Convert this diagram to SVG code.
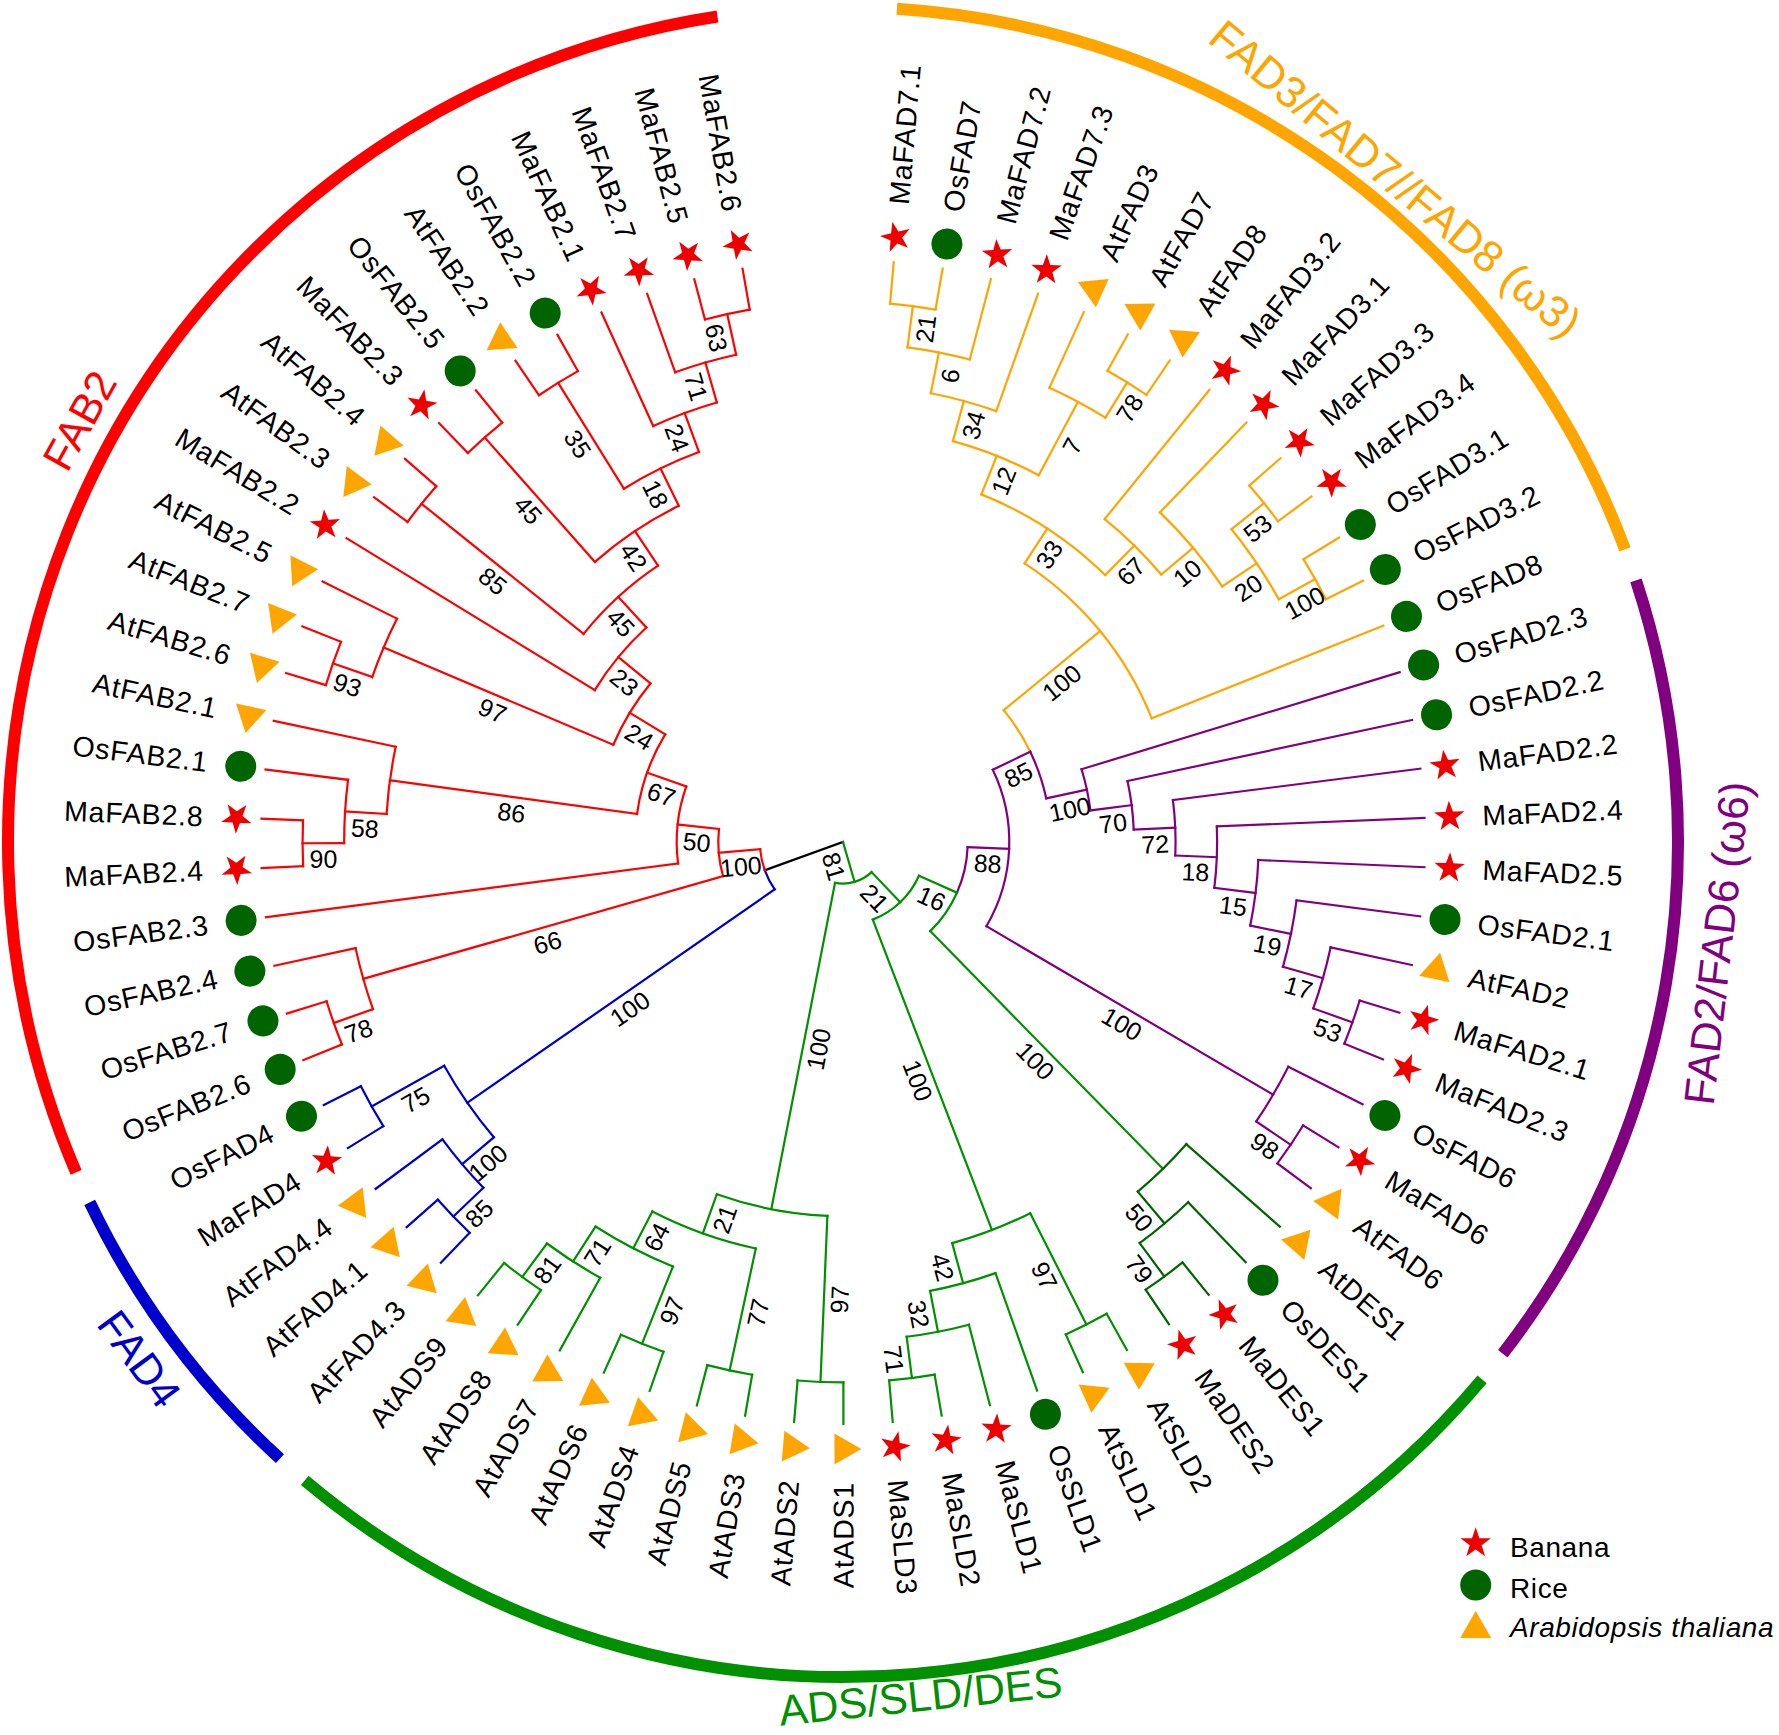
<svg xmlns="http://www.w3.org/2000/svg" width="1779" height="1735" viewBox="0 0 1779 1735">
<style>
text{font-family:"Liberation Sans",Arial,Helvetica,sans-serif}
.tip{font-size:28.5px;letter-spacing:0.8px}
.e{text-anchor:end}
.bs{font-size:25px;text-anchor:middle}
.ed line,.ed circle{fill:none;stroke-width:2.2;stroke-linecap:square}
.ca circle{fill:none;stroke-width:12}
.cl{font-size:43px;text-anchor:middle}
.r{stroke:#f00}.o{stroke:#ffa500}.p{stroke:#800080}.g{stroke:#009000}.d{stroke:#006400}.b{stroke:#0000cc}.k{stroke:#000}
.lg{font-size:28px;letter-spacing:0.6px}
</style>
<defs>
<polygon id="tri" points="0,-17.9 15.5,8.95 -15.5,8.95" fill="#ffa500"/>
<polygon id="star" points="0,-16 3.7,-5.1 15.22,-4.94 5.99,1.95 9.4,12.94 0,6.3 -9.4,12.94 -5.99,1.95 -15.22,-4.94 -3.7,-5.1" fill="#ee0000"/>
<circle id="dot" r="15.5" fill="#006400"/>
</defs>
<rect width="1779" height="1735" fill="#fff"/>
<g transform="translate(843,842)">
<g id="clade-arcs" class="ca">
<circle class="r" r="835" pathLength="360" stroke-dasharray="104.66 720" transform="rotate(156.7)"/>
<circle class="b" r="835" pathLength="360" stroke-dasharray="22.04 720" transform="rotate(132.4)"/>
<circle class="g" r="835" pathLength="360" stroke-dasharray="90.08 720" transform="rotate(40.06)"/>
<circle class="p" r="835" pathLength="360" stroke-dasharray="56.06 720" transform="rotate(341.74)"/>
<circle class="o" r="835" pathLength="360" stroke-dasharray="65.78 720" transform="rotate(273.7)"/>
</g>
<g id="clade-labels" class="cl">
<text fill="#f00" transform="rotate(208.9) translate(857,0) rotate(90)">FAB2</text>
<text fill="#0000cc" transform="rotate(143.7) translate(888,0) rotate(-90)">FAD4</text>
<text fill="#800080" transform="rotate(6.6) translate(895,0) rotate(-90)">FAD2/FAD6 (ω6)</text>
<text fill="#ffa500" font-size="44" transform="rotate(309.8) translate(848,0) rotate(90)">FAD3/FAD7//FAD8 (ω3)</text>
</g>
<g id="connectors" class="ed">
<g class="k"><line x2="83.14" transform="rotate(160.149)"/></g>
<g class="o">
<line x1="540.43" x2="582" transform="rotate(275)"/>
<line x1="540.43" x2="582" transform="rotate(279.86)"/>
<line x1="498.86" x2="582" transform="rotate(284.72)"/>
<line x1="457.29" x2="582" transform="rotate(289.58)"/>
<line x1="498.86" x2="582" transform="rotate(294.44)"/>
<line x1="540.43" x2="582" transform="rotate(299.3)"/>
<line x1="540.43" x2="582" transform="rotate(304.16)"/>
<line x1="415.71" x2="582" transform="rotate(309.02)"/>
<line x1="457.29" x2="582" transform="rotate(313.88)"/>
<line x1="540.43" x2="582" transform="rotate(318.74)"/>
<line x1="540.43" x2="582" transform="rotate(323.6)"/>
<line x1="540.43" x2="582" transform="rotate(328.46)"/>
<line x1="540.43" x2="582" transform="rotate(333.32)"/>
<line x1="332.57" x2="582" transform="rotate(338.18)"/>
<line x1="498.86" x2="540.43" transform="rotate(277.43)"/>
<line x1="457.29" x2="498.86" transform="rotate(281.075)"/>
<line x1="415.71" x2="457.29" transform="rotate(285.328)"/>
<line x1="498.86" x2="540.43" transform="rotate(301.73)"/>
<line x1="415.71" x2="498.86" transform="rotate(298.085)"/>
<line x1="374.14" x2="415.71" transform="rotate(291.706)"/>
<line x1="498.86" x2="540.43" transform="rotate(321.17)"/>
<line x1="498.86" x2="540.43" transform="rotate(330.89)"/>
<line x1="457.29" x2="498.86" transform="rotate(326.03)"/>
<line x1="415.71" x2="457.29" transform="rotate(319.955)"/>
<line x1="374.14" x2="415.71" transform="rotate(314.488)"/>
<line x1="332.57" x2="374.14" transform="rotate(303.097)"/>
<line x1="207.86" x2="332.57" transform="rotate(320.638)"/>
<circle r="540.43" pathLength="360" stroke-dasharray="4.86 720" transform="rotate(275)"/>
<circle r="498.86" pathLength="360" stroke-dasharray="7.29 720" transform="rotate(277.43)"/>
<circle r="457.29" pathLength="360" stroke-dasharray="8.505 720" transform="rotate(281.075)"/>
<circle r="540.43" pathLength="360" stroke-dasharray="4.86 720" transform="rotate(299.3)"/>
<circle r="498.86" pathLength="360" stroke-dasharray="7.29 720" transform="rotate(294.44)"/>
<circle r="415.71" pathLength="360" stroke-dasharray="12.757 720" transform="rotate(285.328)"/>
<circle r="540.43" pathLength="360" stroke-dasharray="4.86 720" transform="rotate(318.74)"/>
<circle r="540.43" pathLength="360" stroke-dasharray="4.86 720" transform="rotate(328.46)"/>
<circle r="498.86" pathLength="360" stroke-dasharray="9.72 720" transform="rotate(321.17)"/>
<circle r="457.29" pathLength="360" stroke-dasharray="12.15 720" transform="rotate(313.88)"/>
<circle r="415.71" pathLength="360" stroke-dasharray="10.935 720" transform="rotate(309.02)"/>
<circle r="374.14" pathLength="360" stroke-dasharray="22.782 720" transform="rotate(291.706)"/>
<circle r="332.57" pathLength="360" stroke-dasharray="35.083 720" transform="rotate(303.097)"/>
<circle r="207.86" pathLength="360" stroke-dasharray="13.622 720" transform="rotate(320.638)"/>
</g>
<g class="p">
<line x1="249.43" x2="582" transform="rotate(343.04)"/>
<line x1="291" x2="582" transform="rotate(347.9)"/>
<line x1="332.57" x2="582" transform="rotate(352.76)"/>
<line x1="374.14" x2="582" transform="rotate(357.62)"/>
<line x1="415.71" x2="582" transform="rotate(2.48)"/>
<line x1="457.29" x2="582" transform="rotate(7.34)"/>
<line x1="498.86" x2="582" transform="rotate(12.2)"/>
<line x1="540.43" x2="582" transform="rotate(17.06)"/>
<line x1="540.43" x2="582" transform="rotate(21.92)"/>
<line x1="498.86" x2="582" transform="rotate(26.78)"/>
<line x1="540.43" x2="582" transform="rotate(31.64)"/>
<line x1="540.43" x2="582" transform="rotate(36.5)"/>
<line x1="498.86" x2="540.43" transform="rotate(19.49)"/>
<line x1="457.29" x2="498.86" transform="rotate(15.845)"/>
<line x1="415.71" x2="457.29" transform="rotate(11.593)"/>
<line x1="374.14" x2="415.71" transform="rotate(7.036)"/>
<line x1="332.57" x2="374.14" transform="rotate(2.328)"/>
<line x1="291" x2="332.57" transform="rotate(357.544)"/>
<line x1="249.43" x2="291" transform="rotate(352.722)"/>
<line x1="207.86" x2="249.43" transform="rotate(347.881)"/>
<line x1="166.29" x2="207.86" transform="rotate(334.26)"/>
<line x1="498.86" x2="540.43" transform="rotate(34.07)"/>
<line x1="166.29" x2="498.86" transform="rotate(30.425)"/>
<line x1="124.71" x2="166.29" transform="rotate(2.342)"/>
<circle r="540.43" pathLength="360" stroke-dasharray="4.86 720" transform="rotate(17.06)"/>
<circle r="498.86" pathLength="360" stroke-dasharray="7.29 720" transform="rotate(12.2)"/>
<circle r="457.29" pathLength="360" stroke-dasharray="8.505 720" transform="rotate(7.34)"/>
<circle r="415.71" pathLength="360" stroke-dasharray="9.113 720" transform="rotate(2.48)"/>
<circle r="374.14" pathLength="360" stroke-dasharray="9.416 720" transform="rotate(357.62)"/>
<circle r="332.57" pathLength="360" stroke-dasharray="9.568 720" transform="rotate(352.76)"/>
<circle r="291" pathLength="360" stroke-dasharray="9.644 720" transform="rotate(347.9)"/>
<circle r="249.43" pathLength="360" stroke-dasharray="9.682 720" transform="rotate(343.04)"/>
<circle r="540.43" pathLength="360" stroke-dasharray="4.86 720" transform="rotate(31.64)"/>
<circle r="498.86" pathLength="360" stroke-dasharray="7.29 720" transform="rotate(26.78)"/>
<circle r="166.29" pathLength="360" stroke-dasharray="56.165 720" transform="rotate(334.26)"/>
<circle r="207.86" pathLength="360" stroke-dasharray="13.621 720" transform="rotate(334.26)"/>
<circle r="124.71" pathLength="360" stroke-dasharray="21.635 720" transform="rotate(2.342)"/>
</g>
<g class="g">
<line x1="540.43" x2="582" transform="rotate(60.8)"/>
<line x1="540.43" x2="582" transform="rotate(65.66)"/>
<line x1="457.29" x2="582" transform="rotate(70.52)"/>
<line x1="498.86" x2="582" transform="rotate(75.38)"/>
<line x1="540.43" x2="582" transform="rotate(80.24)"/>
<line x1="540.43" x2="582" transform="rotate(85.1)"/>
<line x1="540.43" x2="582" transform="rotate(89.96)"/>
<line x1="540.43" x2="582" transform="rotate(94.82)"/>
<line x1="540.43" x2="582" transform="rotate(99.68)"/>
<line x1="540.43" x2="582" transform="rotate(104.54)"/>
<line x1="540.43" x2="582" transform="rotate(109.4)"/>
<line x1="540.43" x2="582" transform="rotate(114.26)"/>
<line x1="498.86" x2="582" transform="rotate(119.12)"/>
<line x1="540.43" x2="582" transform="rotate(123.98)"/>
<line x1="540.43" x2="582" transform="rotate(128.84)"/>
<line x1="124.71" x2="457.29" transform="rotate(45.613)"/>
<line x1="415.71" x2="540.43" transform="rotate(63.23)"/>
<line x1="498.86" x2="540.43" transform="rotate(82.67)"/>
<line x1="457.29" x2="498.86" transform="rotate(79.025)"/>
<line x1="415.71" x2="457.29" transform="rotate(74.773)"/>
<line x1="83.14" x2="415.71" transform="rotate(69.001)"/>
<line x1="83.14" x2="124.71" transform="rotate(23.977)"/>
<line x1="41.57" x2="83.14" transform="rotate(46.489)"/>
<line x1="374.14" x2="540.43" transform="rotate(92.39)"/>
<line x1="415.71" x2="540.43" transform="rotate(102.11)"/>
<line x1="457.29" x2="540.43" transform="rotate(111.83)"/>
<line x1="498.86" x2="540.43" transform="rotate(126.41)"/>
<line x1="457.29" x2="498.86" transform="rotate(122.765)"/>
<line x1="415.71" x2="457.29" transform="rotate(117.298)"/>
<line x1="374.14" x2="415.71" transform="rotate(109.704)"/>
<line x1="41.57" x2="374.14" transform="rotate(101.047)"/>
<line x2="41.57" transform="rotate(73.768)"/>
<circle r="124.71" pathLength="360" stroke-dasharray="21.636 720" transform="rotate(23.977)"/>
<circle r="540.43" pathLength="360" stroke-dasharray="4.86 720" transform="rotate(60.8)"/>
<circle r="540.43" pathLength="360" stroke-dasharray="4.86 720" transform="rotate(80.24)"/>
<circle r="498.86" pathLength="360" stroke-dasharray="7.29 720" transform="rotate(75.38)"/>
<circle r="457.29" pathLength="360" stroke-dasharray="8.505 720" transform="rotate(70.52)"/>
<circle r="415.71" pathLength="360" stroke-dasharray="11.543 720" transform="rotate(63.23)"/>
<circle r="83.14" pathLength="360" stroke-dasharray="45.024 720" transform="rotate(23.977)"/>
<circle r="540.43" pathLength="360" stroke-dasharray="4.86 720" transform="rotate(89.96)"/>
<circle r="540.43" pathLength="360" stroke-dasharray="4.86 720" transform="rotate(99.68)"/>
<circle r="540.43" pathLength="360" stroke-dasharray="4.86 720" transform="rotate(109.4)"/>
<circle r="540.43" pathLength="360" stroke-dasharray="4.86 720" transform="rotate(123.98)"/>
<circle r="498.86" pathLength="360" stroke-dasharray="7.29 720" transform="rotate(119.12)"/>
<circle r="457.29" pathLength="360" stroke-dasharray="10.935 720" transform="rotate(111.83)"/>
<circle r="415.71" pathLength="360" stroke-dasharray="15.188 720" transform="rotate(102.11)"/>
<circle r="374.14" pathLength="360" stroke-dasharray="17.314 720" transform="rotate(92.39)"/>
<circle r="41.57" pathLength="360" stroke-dasharray="54.558 720" transform="rotate(46.489)"/>
</g>
<g class="d">
<line x1="457.29" x2="582" transform="rotate(41.36)"/>
<line x1="498.86" x2="582" transform="rotate(46.22)"/>
<line x1="540.43" x2="582" transform="rotate(51.08)"/>
<line x1="540.43" x2="582" transform="rotate(55.94)"/>
<line x1="498.86" x2="540.43" transform="rotate(53.51)"/>
<line x1="457.29" x2="498.86" transform="rotate(49.865)"/>
<circle r="540.43" pathLength="360" stroke-dasharray="4.86 720" transform="rotate(51.08)"/>
<circle r="498.86" pathLength="360" stroke-dasharray="7.29 720" transform="rotate(46.22)"/>
<circle r="457.29" pathLength="360" stroke-dasharray="8.505 720" transform="rotate(41.36)"/>
</g>
<g class="b">
<line x1="540.43" x2="582" transform="rotate(133.7)"/>
<line x1="540.43" x2="582" transform="rotate(138.56)"/>
<line x1="498.86" x2="582" transform="rotate(143.42)"/>
<line x1="540.43" x2="582" transform="rotate(148.28)"/>
<line x1="540.43" x2="582" transform="rotate(153.14)"/>
<line x1="498.86" x2="540.43" transform="rotate(136.13)"/>
<line x1="457.29" x2="498.86" transform="rotate(139.775)"/>
<line x1="457.29" x2="540.43" transform="rotate(150.71)"/>
<line x1="83.14" x2="457.29" transform="rotate(145.243)"/>
<circle r="540.43" pathLength="360" stroke-dasharray="4.86 720" transform="rotate(133.7)"/>
<circle r="498.86" pathLength="360" stroke-dasharray="7.29 720" transform="rotate(136.13)"/>
<circle r="540.43" pathLength="360" stroke-dasharray="4.86 720" transform="rotate(148.28)"/>
<circle r="457.29" pathLength="360" stroke-dasharray="10.935 720" transform="rotate(139.775)"/>
<circle r="83.14" pathLength="360" stroke-dasharray="14.906 720" transform="rotate(145.243)"/>
</g>
<g class="r">
<line x1="540.43" x2="582" transform="rotate(158)"/>
<line x1="540.43" x2="582" transform="rotate(162.86)"/>
<line x1="498.86" x2="582" transform="rotate(167.72)"/>
<line x1="166.29" x2="582" transform="rotate(172.58)"/>
<line x1="540.43" x2="582" transform="rotate(177.44)"/>
<line x1="540.43" x2="582" transform="rotate(182.3)"/>
<line x1="498.86" x2="582" transform="rotate(187.16)"/>
<line x1="457.29" x2="582" transform="rotate(192.02)"/>
<line x1="540.43" x2="582" transform="rotate(196.88)"/>
<line x1="540.43" x2="582" transform="rotate(201.74)"/>
<line x1="498.86" x2="582" transform="rotate(206.6)"/>
<line x1="291" x2="582" transform="rotate(211.46)"/>
<line x1="540.43" x2="582" transform="rotate(216.32)"/>
<line x1="540.43" x2="582" transform="rotate(221.18)"/>
<line x1="540.43" x2="582" transform="rotate(226.04)"/>
<line x1="540.43" x2="582" transform="rotate(230.9)"/>
<line x1="540.43" x2="582" transform="rotate(235.76)"/>
<line x1="540.43" x2="582" transform="rotate(240.62)"/>
<line x1="457.29" x2="582" transform="rotate(245.48)"/>
<line x1="498.86" x2="582" transform="rotate(250.34)"/>
<line x1="540.43" x2="582" transform="rotate(255.2)"/>
<line x1="540.43" x2="582" transform="rotate(260.06)"/>
<line x1="498.86" x2="540.43" transform="rotate(160.43)"/>
<line x1="124.71" x2="498.86" transform="rotate(164.075)"/>
<line x1="498.86" x2="540.43" transform="rotate(179.87)"/>
<line x1="457.29" x2="498.86" transform="rotate(183.515)"/>
<line x1="207.86" x2="457.29" transform="rotate(187.768)"/>
<line x1="498.86" x2="540.43" transform="rotate(199.31)"/>
<line x1="249.43" x2="498.86" transform="rotate(202.955)"/>
<line x1="332.57" x2="540.43" transform="rotate(218.75)"/>
<line x1="374.14" x2="540.43" transform="rotate(228.47)"/>
<line x1="415.71" x2="540.43" transform="rotate(238.19)"/>
<line x1="498.86" x2="540.43" transform="rotate(257.63)"/>
<line x1="457.29" x2="498.86" transform="rotate(253.985)"/>
<line x1="415.71" x2="457.29" transform="rotate(249.733)"/>
<line x1="374.14" x2="415.71" transform="rotate(243.961)"/>
<line x1="332.57" x2="374.14" transform="rotate(236.216)"/>
<line x1="291" x2="332.57" transform="rotate(227.483)"/>
<line x1="249.43" x2="291" transform="rotate(219.471)"/>
<line x1="207.86" x2="249.43" transform="rotate(211.213)"/>
<line x1="166.29" x2="207.86" transform="rotate(199.49)"/>
<line x1="124.71" x2="166.29" transform="rotate(186.035)"/>
<line x1="83.14" x2="124.71" transform="rotate(175.055)"/>
<circle r="540.43" pathLength="360" stroke-dasharray="4.86 720" transform="rotate(158)"/>
<circle r="498.86" pathLength="360" stroke-dasharray="7.29 720" transform="rotate(160.43)"/>
<circle r="540.43" pathLength="360" stroke-dasharray="4.86 720" transform="rotate(177.44)"/>
<circle r="498.86" pathLength="360" stroke-dasharray="7.29 720" transform="rotate(179.87)"/>
<circle r="457.29" pathLength="360" stroke-dasharray="8.505 720" transform="rotate(183.515)"/>
<circle r="540.43" pathLength="360" stroke-dasharray="4.86 720" transform="rotate(196.88)"/>
<circle r="498.86" pathLength="360" stroke-dasharray="7.29 720" transform="rotate(199.31)"/>
<circle r="540.43" pathLength="360" stroke-dasharray="4.86 720" transform="rotate(216.32)"/>
<circle r="540.43" pathLength="360" stroke-dasharray="4.86 720" transform="rotate(226.04)"/>
<circle r="540.43" pathLength="360" stroke-dasharray="4.86 720" transform="rotate(235.76)"/>
<circle r="540.43" pathLength="360" stroke-dasharray="4.86 720" transform="rotate(255.2)"/>
<circle r="498.86" pathLength="360" stroke-dasharray="7.29 720" transform="rotate(250.34)"/>
<circle r="457.29" pathLength="360" stroke-dasharray="8.505 720" transform="rotate(245.48)"/>
<circle r="415.71" pathLength="360" stroke-dasharray="11.543 720" transform="rotate(238.19)"/>
<circle r="374.14" pathLength="360" stroke-dasharray="15.491 720" transform="rotate(228.47)"/>
<circle r="332.57" pathLength="360" stroke-dasharray="17.466 720" transform="rotate(218.75)"/>
<circle r="291" pathLength="360" stroke-dasharray="16.023 720" transform="rotate(211.46)"/>
<circle r="249.43" pathLength="360" stroke-dasharray="16.516 720" transform="rotate(202.955)"/>
<circle r="207.86" pathLength="360" stroke-dasharray="23.445 720" transform="rotate(187.768)"/>
<circle r="166.29" pathLength="360" stroke-dasharray="26.91 720" transform="rotate(172.58)"/>
<circle r="124.71" pathLength="360" stroke-dasharray="21.96 720" transform="rotate(164.075)"/>
<circle r="83.14" pathLength="360" stroke-dasharray="14.906 720" transform="rotate(160.149)"/>
</g>
</g>
<g id="bootstrap" class="bs">
<text transform="rotate(277.43) translate(519.65,0)" y="24.5">21</text>
<text transform="rotate(281.075) translate(478.08,0)" y="24.5">6</text>
<text transform="rotate(285.328) translate(436.5,0)" y="24.5">34</text>
<text transform="rotate(291.706) translate(394.93,0)" y="24.5">12</text>
<text transform="rotate(303.097) translate(353.36,0)" y="24.5">33</text>
<text transform="rotate(301.73) translate(519.65,0)" y="24.5">78</text>
<text transform="rotate(298.085) translate(457.29,0)" y="24.5">7</text>
<text transform="rotate(321.17) translate(519.65,0)" y="24.5">53</text>
<text transform="rotate(330.89) translate(519.65,0)" y="24.5">100</text>
<text transform="rotate(326.03) translate(478.08,0)" y="24.5">20</text>
<text transform="rotate(319.955) translate(436.5,0)" y="24.5">10</text>
<text transform="rotate(314.488) translate(394.93,0)" y="24.5">67</text>
<text transform="rotate(320.638) translate(270.22,0)" y="24.5">100</text>
<text transform="rotate(334.26) translate(187.08,0)" y="24.5">85</text>
<text transform="rotate(347.881) translate(228.65,0)" y="24.5">100</text>
<text transform="rotate(352.722) translate(270.22,0)" y="24.5">70</text>
<text transform="rotate(357.544) translate(311.79,0)" y="24.5">72</text>
<text transform="rotate(2.328) translate(353.36,0)" y="24.5">18</text>
<text transform="rotate(7.036) translate(394.93,0)" y="24.5">15</text>
<text transform="rotate(11.593) translate(436.5,0)" y="24.5">19</text>
<text transform="rotate(15.845) translate(478.08,0)" y="24.5">17</text>
<text transform="rotate(19.49) translate(519.65,0)" y="24.5">53</text>
<text transform="rotate(2.342) translate(145.5,0)" y="24.5">88</text>
<text transform="rotate(30.425) translate(332.58,0)" y="24.5">100</text>
<text transform="rotate(34.07) translate(519.65,0)" y="24.5">98</text>
<text transform="rotate(23.977) translate(103.93,0)" y="24.5">16</text>
<text transform="rotate(45.613) translate(291,0)" y="24.5">100</text>
<text transform="rotate(49.865) translate(478.08,0)" y="24.5">50</text>
<text transform="rotate(53.51) translate(519.65,0)" y="24.5">79</text>
<text transform="rotate(46.489) translate(62.36,0)" y="24.5">21</text>
<text transform="rotate(69.001) translate(249.43,0)" y="24.5">100</text>
<text transform="rotate(63.23) translate(478.07,0)" y="24.5">97</text>
<text transform="rotate(74.773) translate(436.5,0)" y="24.5">42</text>
<text transform="rotate(79.025) translate(478.08,0)" y="24.5">32</text>
<text transform="rotate(82.67) translate(519.65,0)" y="24.5">71</text>
<text transform="rotate(73.768) translate(20.79,0)" y="24.5">81</text>
<text transform="rotate(101.047) translate(207.86,0) rotate(180)" y="24.5">100</text>
<text transform="rotate(92.39) translate(457.29,0) rotate(180)" y="24.5">97</text>
<text transform="rotate(109.704) translate(394.93,0) rotate(180)" y="24.5">21</text>
<text transform="rotate(102.11) translate(478.07,0) rotate(180)" y="24.5">77</text>
<text transform="rotate(117.298) translate(436.5,0) rotate(180)" y="24.5">64</text>
<text transform="rotate(111.83) translate(498.86,0) rotate(180)" y="24.5">97</text>
<text transform="rotate(122.765) translate(478.08,0) rotate(180)" y="24.5">71</text>
<text transform="rotate(126.41) translate(519.65,0) rotate(180)" y="24.5">81</text>
<text transform="rotate(145.243) translate(270.22,0) rotate(180)" y="24.5">100</text>
<text transform="rotate(139.775) translate(478.08,0) rotate(180)" y="24.5">100</text>
<text transform="rotate(136.13) translate(519.65,0) rotate(180)" y="24.5">85</text>
<text transform="rotate(150.71) translate(498.86,0) rotate(180)" y="24.5">75</text>
<text transform="rotate(175.055) translate(103.93,0) rotate(180)" y="24.5">100</text>
<text transform="rotate(164.075) translate(311.79,0) rotate(180)" y="24.5">66</text>
<text transform="rotate(160.43) translate(519.65,0) rotate(180)" y="24.5">78</text>
<text transform="rotate(186.035) translate(145.5,0) rotate(180)" y="24.5">50</text>
<text transform="rotate(199.49) translate(187.08,0) rotate(180)" y="24.5">67</text>
<text transform="rotate(187.768) translate(332.58,0) rotate(180)" y="24.5">86</text>
<text transform="rotate(183.515) translate(478.08,0) rotate(180)" y="24.5">58</text>
<text transform="rotate(179.87) translate(519.65,0) rotate(180)" y="24.5">90</text>
<text transform="rotate(211.213) translate(228.65,0) rotate(180)" y="24.5">24</text>
<text transform="rotate(202.955) translate(374.14,0) rotate(180)" y="24.5">97</text>
<text transform="rotate(199.31) translate(519.65,0) rotate(180)" y="24.5">93</text>
<text transform="rotate(219.471) translate(270.22,0) rotate(180)" y="24.5">23</text>
<text transform="rotate(227.483) translate(311.79,0) rotate(180)" y="24.5">45</text>
<text transform="rotate(218.75) translate(436.5,0) rotate(180)" y="24.5">85</text>
<text transform="rotate(236.216) translate(353.36,0) rotate(180)" y="24.5">42</text>
<text transform="rotate(228.47) translate(457.29,0) rotate(180)" y="24.5">45</text>
<text transform="rotate(243.961) translate(394.93,0) rotate(180)" y="24.5">18</text>
<text transform="rotate(238.19) translate(478.07,0) rotate(180)" y="24.5">35</text>
<text transform="rotate(249.733) translate(436.5,0) rotate(180)" y="24.5">24</text>
<text transform="rotate(253.985) translate(478.08,0) rotate(180)" y="24.5">71</text>
<text transform="rotate(257.63) translate(519.65,0) rotate(180)" y="24.5">63</text>
</g>
<g id="tips" class="tip">
<g id="MaFAD7.1" transform="rotate(275)"><use href="#star" x="607"/><text x="640" y="10">MaFAD7.1</text></g>
<g id="OsFAD7" transform="rotate(279.86)"><use href="#dot" x="607"/><text x="640" y="10">OsFAD7</text></g>
<g id="MaFAD7.2" transform="rotate(284.72)"><use href="#star" x="607"/><text x="640" y="10">MaFAD7.2</text></g>
<g id="MaFAD7.3" transform="rotate(289.58)"><use href="#star" x="607"/><text x="640" y="10">MaFAD7.3</text></g>
<g id="AtFAD3" transform="rotate(294.44)"><use href="#tri" x="607"/><text x="640" y="10">AtFAD3</text></g>
<g id="AtFAD7" transform="rotate(299.3)"><use href="#tri" x="607"/><text x="640" y="10">AtFAD7</text></g>
<g id="AtFAD8" transform="rotate(304.16)"><use href="#tri" x="607"/><text x="640" y="10">AtFAD8</text></g>
<g id="MaFAD3.2" transform="rotate(309.02)"><use href="#star" x="607"/><text x="640" y="10">MaFAD3.2</text></g>
<g id="MaFAD3.1" transform="rotate(313.88)"><use href="#star" x="607"/><text x="640" y="10">MaFAD3.1</text></g>
<g id="MaFAD3.3" transform="rotate(318.74)"><use href="#star" x="607"/><text x="640" y="10">MaFAD3.3</text></g>
<g id="MaFAD3.4" transform="rotate(323.6)"><use href="#star" x="607"/><text x="640" y="10">MaFAD3.4</text></g>
<g id="OsFAD3.1" transform="rotate(328.46)"><use href="#dot" x="607"/><text x="640" y="10">OsFAD3.1</text></g>
<g id="OsFAD3.2" transform="rotate(333.32)"><use href="#dot" x="607"/><text x="640" y="10">OsFAD3.2</text></g>
<g id="OsFAD8" transform="rotate(338.18)"><use href="#dot" x="607"/><text x="640" y="10">OsFAD8</text></g>
<g id="OsFAD2.3" transform="rotate(343.04)"><use href="#dot" x="607"/><text x="640" y="10">OsFAD2.3</text></g>
<g id="OsFAD2.2" transform="rotate(347.9)"><use href="#dot" x="607"/><text x="640" y="10">OsFAD2.2</text></g>
<g id="MaFAD2.2" transform="rotate(352.76)"><use href="#star" x="607"/><text x="640" y="10">MaFAD2.2</text></g>
<g id="MaFAD2.4" transform="rotate(357.62)"><use href="#star" x="607"/><text x="640" y="10">MaFAD2.4</text></g>
<g id="MaFAD2.5" transform="rotate(2.48)"><use href="#star" x="607"/><text x="640" y="10">MaFAD2.5</text></g>
<g id="OsFAD2.1" transform="rotate(7.34)"><use href="#dot" x="607"/><text x="640" y="10">OsFAD2.1</text></g>
<g id="AtFAD2" transform="rotate(12.2)"><use href="#tri" x="607"/><text x="640" y="10">AtFAD2</text></g>
<g id="MaFAD2.1" transform="rotate(17.06)"><use href="#star" x="607"/><text x="640" y="10">MaFAD2.1</text></g>
<g id="MaFAD2.3" transform="rotate(21.92)"><use href="#star" x="607"/><text x="640" y="10">MaFAD2.3</text></g>
<g id="OsFAD6" transform="rotate(26.78)"><use href="#dot" x="607"/><text x="640" y="10">OsFAD6</text></g>
<g id="MaFAD6" transform="rotate(31.64)"><use href="#star" x="607"/><text x="640" y="10">MaFAD6</text></g>
<g id="AtFAD6" transform="rotate(36.5)"><use href="#tri" x="607"/><text x="640" y="10">AtFAD6</text></g>
<g id="AtDES1" transform="rotate(41.36)"><use href="#tri" x="607"/><text x="640" y="10">AtDES1</text></g>
<g id="OsDES1" transform="rotate(46.22)"><use href="#dot" x="607"/><text x="640" y="10">OsDES1</text></g>
<g id="MaDES1" transform="rotate(51.08)"><use href="#star" x="607"/><text x="640" y="10">MaDES1</text></g>
<g id="MaDES2" transform="rotate(55.94)"><use href="#star" x="607"/><text x="640" y="10">MaDES2</text></g>
<g id="AtSLD2" transform="rotate(60.8)"><use href="#tri" x="607"/><text x="640" y="10">AtSLD2</text></g>
<g id="AtSLD1" transform="rotate(65.66)"><use href="#tri" x="607"/><text x="640" y="10">AtSLD1</text></g>
<g id="OsSLD1" transform="rotate(70.52)"><use href="#dot" x="607"/><text x="640" y="10">OsSLD1</text></g>
<g id="MaSLD1" transform="rotate(75.38)"><use href="#star" x="607"/><text x="640" y="10">MaSLD1</text></g>
<g id="MaSLD2" transform="rotate(80.24)"><use href="#star" x="607"/><text x="640" y="10">MaSLD2</text></g>
<g id="MaSLD3" transform="rotate(85.1)"><use href="#star" x="607"/><text x="640" y="10">MaSLD3</text></g>
<g id="AtADS1" transform="rotate(89.96)"><use href="#tri" x="607"/><text class="e" transform="translate(640,0) rotate(180)" y="10">AtADS1</text></g>
<g id="AtADS2" transform="rotate(94.82)"><use href="#tri" x="607"/><text class="e" transform="translate(640,0) rotate(180)" y="10">AtADS2</text></g>
<g id="AtADS3" transform="rotate(99.68)"><use href="#tri" x="607"/><text class="e" transform="translate(640,0) rotate(180)" y="10">AtADS3</text></g>
<g id="AtADS5" transform="rotate(104.54)"><use href="#tri" x="607"/><text class="e" transform="translate(640,0) rotate(180)" y="10">AtADS5</text></g>
<g id="AtADS4" transform="rotate(109.4)"><use href="#tri" x="607"/><text class="e" transform="translate(640,0) rotate(180)" y="10">AtADS4</text></g>
<g id="AtADS6" transform="rotate(114.26)"><use href="#tri" x="607"/><text class="e" transform="translate(640,0) rotate(180)" y="10">AtADS6</text></g>
<g id="AtADS7" transform="rotate(119.12)"><use href="#tri" x="607"/><text class="e" transform="translate(640,0) rotate(180)" y="10">AtADS7</text></g>
<g id="AtADS8" transform="rotate(123.98)"><use href="#tri" x="607"/><text class="e" transform="translate(640,0) rotate(180)" y="10">AtADS8</text></g>
<g id="AtADS9" transform="rotate(128.84)"><use href="#tri" x="607"/><text class="e" transform="translate(640,0) rotate(180)" y="10">AtADS9</text></g>
<g id="AtFAD4.3" transform="rotate(133.7)"><use href="#tri" x="607"/><text class="e" transform="translate(640,0) rotate(180)" y="10">AtFAD4.3</text></g>
<g id="AtFAD4.1" transform="rotate(138.56)"><use href="#tri" x="607"/><text class="e" transform="translate(640,0) rotate(180)" y="10">AtFAD4.1</text></g>
<g id="AtFAD4.4" transform="rotate(143.42)"><use href="#tri" x="607"/><text class="e" transform="translate(640,0) rotate(180)" y="10">AtFAD4.4</text></g>
<g id="MaFAD4" transform="rotate(148.28)"><use href="#star" x="607"/><text class="e" transform="translate(640,0) rotate(180)" y="10">MaFAD4</text></g>
<g id="OsFAD4" transform="rotate(153.14)"><use href="#dot" x="607"/><text class="e" transform="translate(640,0) rotate(180)" y="10">OsFAD4</text></g>
<g id="OsFAB2.6" transform="rotate(158)"><use href="#dot" x="607"/><text class="e" transform="translate(640,0) rotate(180)" y="10">OsFAB2.6</text></g>
<g id="OsFAB2.7" transform="rotate(162.86)"><use href="#dot" x="607"/><text class="e" transform="translate(640,0) rotate(180)" y="10">OsFAB2.7</text></g>
<g id="OsFAB2.4" transform="rotate(167.72)"><use href="#dot" x="607"/><text class="e" transform="translate(640,0) rotate(180)" y="10">OsFAB2.4</text></g>
<g id="OsFAB2.3" transform="rotate(172.58)"><use href="#dot" x="607"/><text class="e" transform="translate(640,0) rotate(180)" y="10">OsFAB2.3</text></g>
<g id="MaFAB2.4" transform="rotate(177.44)"><use href="#star" x="607"/><text class="e" transform="translate(640,0) rotate(180)" y="10">MaFAB2.4</text></g>
<g id="MaFAB2.8" transform="rotate(182.3)"><use href="#star" x="607"/><text class="e" transform="translate(640,0) rotate(180)" y="10">MaFAB2.8</text></g>
<g id="OsFAB2.1" transform="rotate(187.16)"><use href="#dot" x="607"/><text class="e" transform="translate(640,0) rotate(180)" y="10">OsFAB2.1</text></g>
<g id="AtFAB2.1" transform="rotate(192.02)"><use href="#tri" x="607"/><text class="e" transform="translate(640,0) rotate(180)" y="10">AtFAB2.1</text></g>
<g id="AtFAB2.6" transform="rotate(196.88)"><use href="#tri" x="607"/><text class="e" transform="translate(640,0) rotate(180)" y="10">AtFAB2.6</text></g>
<g id="AtFAB2.7" transform="rotate(201.74)"><use href="#tri" x="607"/><text class="e" transform="translate(640,0) rotate(180)" y="10">AtFAB2.7</text></g>
<g id="AtFAB2.5" transform="rotate(206.6)"><use href="#tri" x="607"/><text class="e" transform="translate(640,0) rotate(180)" y="10">AtFAB2.5</text></g>
<g id="MaFAB2.2" transform="rotate(211.46)"><use href="#star" x="607"/><text class="e" transform="translate(640,0) rotate(180)" y="10">MaFAB2.2</text></g>
<g id="AtFAB2.3" transform="rotate(216.32)"><use href="#tri" x="607"/><text class="e" transform="translate(640,0) rotate(180)" y="10">AtFAB2.3</text></g>
<g id="AtFAB2.4" transform="rotate(221.18)"><use href="#tri" x="607"/><text class="e" transform="translate(640,0) rotate(180)" y="10">AtFAB2.4</text></g>
<g id="MaFAB2.3" transform="rotate(226.04)"><use href="#star" x="607"/><text class="e" transform="translate(640,0) rotate(180)" y="10">MaFAB2.3</text></g>
<g id="OsFAB2.5" transform="rotate(230.9)"><use href="#dot" x="607"/><text class="e" transform="translate(640,0) rotate(180)" y="10">OsFAB2.5</text></g>
<g id="AtFAB2.2" transform="rotate(235.76)"><use href="#tri" x="607"/><text class="e" transform="translate(640,0) rotate(180)" y="10">AtFAB2.2</text></g>
<g id="OsFAB2.2" transform="rotate(240.62)"><use href="#dot" x="607"/><text class="e" transform="translate(640,0) rotate(180)" y="10">OsFAB2.2</text></g>
<g id="MaFAB2.1" transform="rotate(245.48)"><use href="#star" x="607"/><text class="e" transform="translate(640,0) rotate(180)" y="10">MaFAB2.1</text></g>
<g id="MaFAB2.7" transform="rotate(250.34)"><use href="#star" x="607"/><text class="e" transform="translate(640,0) rotate(180)" y="10">MaFAB2.7</text></g>
<g id="MaFAB2.5" transform="rotate(255.2)"><use href="#star" x="607"/><text class="e" transform="translate(640,0) rotate(180)" y="10">MaFAB2.5</text></g>
<g id="MaFAB2.6" transform="rotate(260.06)"><use href="#star" x="607"/><text class="e" transform="translate(640,0) rotate(180)" y="10">MaFAB2.6</text></g>
</g>
</g>
<text class="cl" fill="#009000" font-size="41" transform="translate(922,1711) rotate(-6)">ADS/SLD/DES</text>
<g id="legend" class="lg">
<use href="#star" transform="translate(1475.7,1543.3)"/>
<text x="1510" y="1556.7">Banana</text>
<use href="#dot" transform="translate(1475.7,1585)"/>
<text x="1510" y="1598.3">Rice</text>
<use href="#tri" transform="translate(1475.7,1629)"/>
<text x="1510" y="1636.7" font-style="italic">Arabidopsis thaliana</text>
</g>
</svg>
